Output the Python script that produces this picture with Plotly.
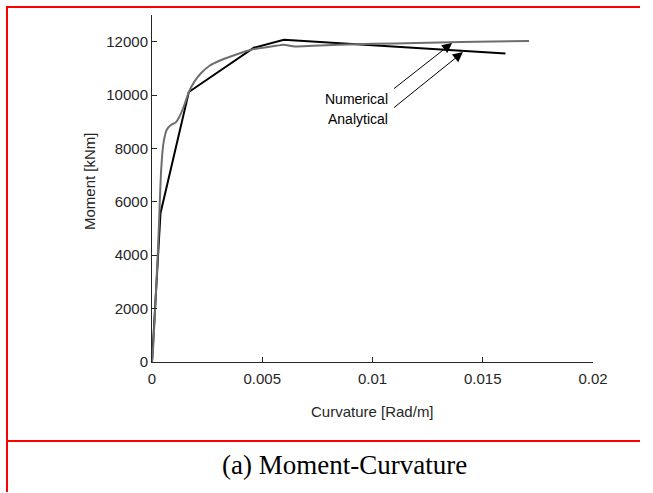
import plotly.graph_objects as go

# ---- data ----
analytical_x = [0.0, 0.000385, 0.00167, 0.00462, 0.00598, 0.01603]
analytical_y = [0, 5576, 10114, 11775, 12075, 11561]

numerical_x = [0.0, 0.000038, 0.000265, 0.000416, 0.00052, 0.00067, 0.00087, 0.00107,
               0.00125, 0.00147, 0.00167, 0.00193, 0.00223, 0.00261, 0.00306, 0.00366,
               0.00462, 0.00548, 0.00598, 0.00639, 0.0073, 0.0085, 0.010, 0.012, 0.014, 0.0171]
numerical_y = [0, 326, 4076, 7200, 8200, 8700, 8887, 8975,
               9200, 9637, 10114, 10512, 10825, 11100, 11287, 11475,
               11725, 11825, 11887, 11825, 11850, 11887, 11920, 11950, 11985, 12025]

x_ticks = [0, 0.005, 0.01, 0.015, 0.02]
x_tick_text = ["0", "0.005", "0.01", "0.015", "0.02"]
y_ticks = [0, 2000, 4000, 6000, 8000, 10000, 12000]
y_tick_text = ["0", "2000", "4000", "6000", "8000", "10000", "12000"]

W, H = 653, 493
L, R, T, B = 152, 60, 15, 131
PW, PH = W - L - R, H - T - B

def px(x):
    return (x - L) / PW

def py(y):
    return (H - B - y) / PH

fig = go.Figure()
fig.add_trace(go.Scatter(x=analytical_x, y=analytical_y, mode="lines",
                         line=dict(color="black", width=2), name="Analytical"))
fig.add_trace(go.Scatter(x=numerical_x, y=numerical_y, mode="lines",
                         line=dict(color="#6e6e6e", width=2, shape="spline", smoothing=0.6),
                         name="Numerical"))

axis_col = "#262626"
font_s = "Liberation Sans, Arial, sans-serif"

fig.update_layout(
    width=W, height=H,
    margin=dict(l=L, r=R, t=T, b=B),
    paper_bgcolor="white", plot_bgcolor="white",
    showlegend=False,
    font=dict(family=font_s, size=15, color=axis_col),
    xaxis=dict(range=[0, 0.02], tickvals=x_ticks, ticktext=x_tick_text,
               showgrid=False, zeroline=False, showline=True, linecolor=axis_col,
               linewidth=1, ticks="inside", ticklen=5, tickcolor=axis_col,
               ticklabelstandoff=3,
               tickfont=dict(size=15, color=axis_col, family=font_s)),
    yaxis=dict(range=[0, 13000], tickvals=y_ticks, ticktext=y_tick_text,
               showgrid=False, zeroline=False, showline=True, linecolor=axis_col,
               linewidth=1, ticks="inside", ticklen=5, tickcolor=axis_col,
               tickfont=dict(size=15, color=axis_col, family=font_s)),
)

annotations = [
    dict(text="Curvature [Rad/m]", xref="paper", yref="paper", x=0.5, y=py(411),
         showarrow=False, xanchor="center", yanchor="middle",
         font=dict(size=15, color=axis_col, family=font_s)),
    dict(text="Moment [kNm]", xref="paper", yref="paper", x=px(90), y=py(181),
         showarrow=False, xanchor="center", yanchor="middle", textangle=-90,
         font=dict(size=15, color=axis_col, family=font_s)),
    dict(text="(a) Moment-Curvature", xref="paper", yref="paper", x=px(344), y=py(465),
         showarrow=False, xanchor="center", yanchor="middle",
         font=dict(size=27, color="black", family="Liberation Serif, Times New Roman, serif")),
    dict(text="Numerical", x=0.0108, y=9850, xref="x", yref="y", showarrow=False,
         xanchor="right", yanchor="middle", font=dict(size=14, color="black", family=font_s)),
    dict(text="Analytical", x=0.0108, y=9100, xref="x", yref="y", showarrow=False,
         xanchor="right", yanchor="middle", font=dict(size=14, color="black", family=font_s)),
    dict(text="", x=0.01361, y=11951, ax=0.01091, ay=10200, xref="x", yref="y",
         axref="x", ayref="y", showarrow=True, arrowhead=2, arrowsize=2,
         arrowwidth=1, arrowcolor="black"),
    dict(text="", x=0.0141, y=11610, ax=0.01091, ay=9487, xref="x", yref="y",
         axref="x", ayref="y", showarrow=True, arrowhead=2, arrowsize=2,
         arrowwidth=1, arrowcolor="black"),
]
fig.update_layout(annotations=annotations)

red = dict(color="red", width=2)
shapes = [
    dict(type="line", xref="paper", yref="paper", x0=px(6), x1=px(640), y0=py(7), y1=py(7), line=red),
    dict(type="line", xref="paper", yref="paper", x0=px(7), x1=px(7), y0=py(6), y1=py(H - 1), line=red),
    dict(type="line", xref="paper", yref="paper", x0=px(6), x1=px(640), y0=py(441), y1=py(441), line=red),
]
fig.update_layout(shapes=shapes)

fig.write_html("out.html")
